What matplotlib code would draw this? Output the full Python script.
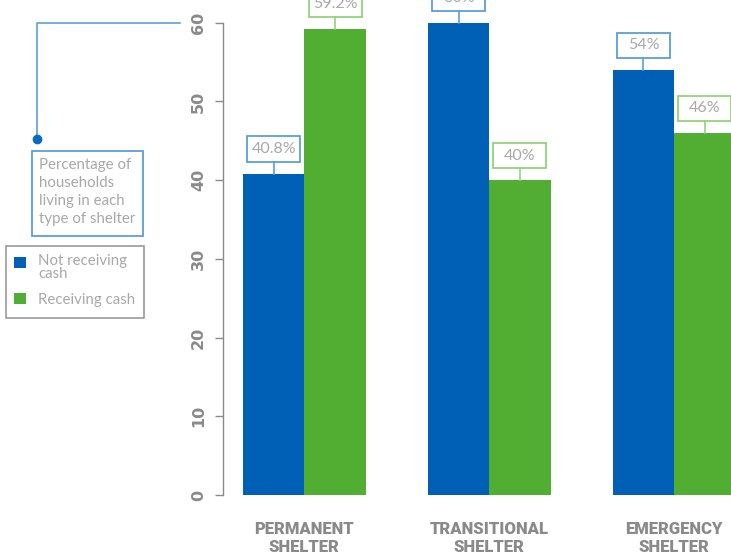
import matplotlib.pyplot as plt
import numpy as np
from matplotlib.patches import Rectangle

# data
categories = ['PERMANENT\nSHELTER', 'TRANSITIONAL\nSHELTER', 'EMERGENCY\nSHELTER']
not_receiving = [40.8, 60, 54]
receiving = [59.2, 40, 46]
not_labels = ['40.8%', '60%', '54%']
recv_labels = ['59.2%', '40%', '46%']
series_names = ['Not receiving\ncash', 'Receiving cash']
yticks = [0, 10, 20, 30, 40, 50, 60]

BLUE = '#0060b6'
GREEN = '#52ad33'
BLUE_EDGE = '#5a9fd6'
GREY_TXT = '#a8a8a8'
GREEN_EDGE = '#93d27a'
AXIS_GREY = '#8a8a8a'

W, H = 731, 554


def fx(px):
    return px / W


def fy(py):
    return 1 - py / H


fig = plt.figure(figsize=(7.31, 5.54), dpi=100)
ax = fig.add_axes([fx(222.5), fy(495), fx(731 - 222.5), (495 - 22.7) / H])

x = np.arange(len(categories))
width = 0.332
ax.bar(x - width / 2, not_receiving, width, color=BLUE, clip_on=False)
ax.bar(x + width / 2, receiving, width, color=GREEN, clip_on=False)

ax.set_xlim(-0.443, 2.308)
ax.set_ylim(0, 60)

# value boxes above bars
box_w = 0.287
box_h = 3.25
gap = 1.5
for xs, vals, labs, ec in [(x - width / 2, not_receiving, not_labels, BLUE_EDGE),
                           (x + width / 2, receiving, recv_labels, GREEN_EDGE)]:
    for xi, v, lab in zip(xs, vals, labs):
        ax.plot([xi, xi], [v, v + gap], color=ec, lw=1.2, clip_on=False)
        ax.add_patch(Rectangle((xi - box_w / 2, v + gap), box_w, box_h,
                               fc='white', ec=ec, lw=1.3, clip_on=False))
        ax.text(xi, v + gap + box_h / 2, lab, ha='center', va='center',
                fontsize=11.5, color=GREY_TXT, family='Lato', clip_on=False)

# axes styling
for s in ['top', 'right', 'bottom']:
    ax.spines[s].set_visible(False)
ax.spines['left'].set_color(AXIS_GREY)
ax.spines['left'].set_linewidth(1)
ax.set_yticks(yticks)
ax.set_yticklabels([str(t) for t in yticks], rotation=90, va='center',
                   fontsize=11.5, fontweight='bold', color=AXIS_GREY, family='DejaVu Sans')
ax.tick_params(axis='y', length=6, width=1, color=AXIS_GREY, pad=6)
ax.set_xticks(x)
ax.set_xticklabels(categories, fontsize=12, fontweight='black', color=AXIS_GREY,
                   family=['Roboto', 'DejaVu Sans'], linespacing=1.12)
ax.tick_params(axis='x', length=0, pad=19)

# left callout
fig.add_artist(plt.Line2D([fx(37), fx(37), fx(180)], [fy(139), fy(22.7), fy(22.7)],
                          color=BLUE_EDGE, lw=1.2))
fig.add_artist(plt.Line2D([fx(37)], [fy(139)], marker='o', ms=6, color='#0a6bbf'))
fig.add_artist(Rectangle((fx(32), fy(236)), fx(111), (236 - 151) / H,
                         fc='white', ec=BLUE_EDGE, lw=1.3))
fig.text(fx(39), fy(158), 'Percentage of\nhouseholds\nliving in each\ntype of shelter',
         ha='left', va='top', fontsize=10.8, color=GREY_TXT, family='Lato',
         linespacing=1.36)

# legend
fig.add_artist(Rectangle((fx(6), fy(318)), fx(138), (318 - 246) / H,
                         fc='white', ec='#9a9a9a', lw=1.2))
fig.add_artist(Rectangle((fx(14), fy(268)), fx(12), 11 / H, fc=BLUE, ec='none'))
fig.add_artist(Rectangle((fx(14), fy(304)), fx(12), 11 / H, fc=GREEN, ec='none'))
fig.text(fx(38), fy(254), series_names[0], ha='left', va='top', fontsize=10.8,
         color=GREY_TXT, family='Lato', linespacing=0.9)
fig.text(fx(38), fy(300), series_names[1], ha='left', va='center', fontsize=10.8,
         color=GREY_TXT, family='Lato')

fig.savefig('out.png', dpi=100)
